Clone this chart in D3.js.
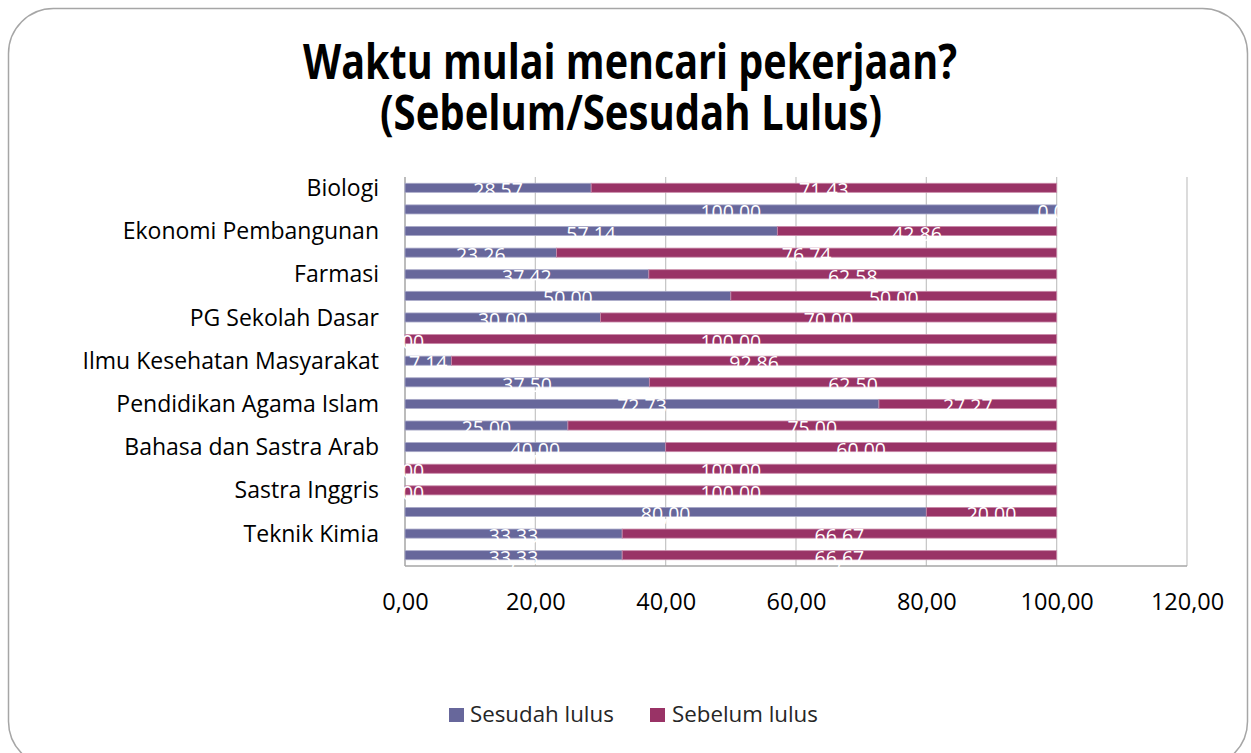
<!DOCTYPE html>
<html><head><meta charset="utf-8">
<script src="https://cdn.jsdelivr.net/npm/d3@7"></script>
<style>body{margin:0;background:#fff;} svg{display:block;font-family:"Open Sans",sans-serif;}</style>
</head><body>
<svg id="c" width="1251" height="753"></svg>
<script>
// ---- data ----
const categories = ["Biologi","","Ekonomi Pembangunan","","Farmasi","","PG Sekolah Dasar","","Ilmu Kesehatan Masyarakat","","Pendidikan Agama Islam","","Bahasa dan Sastra Arab","","Sastra Inggris","","Teknik Kimia",""];
const sesudahLulus = [28.57,100.00,57.14,23.26,37.42,50.00,30.00,0.00,7.14,37.50,72.73,25.00,40.00,0.00,0.00,80.00,33.33,33.33];
const sebelumLulus = [71.43,0.00,42.86,76.74,62.58,50.00,70.00,100.00,92.86,62.50,27.27,75.00,60.00,100.00,100.00,20.00,66.67,66.67];
const xTicks = [0,20,40,60,80,100,120];
const seriesNames = ["Sesudah lulus","Sebelum lulus"];
const seriesKeys = ["sesudah","sebelum"];
const colors = ["#67679b","#993366"];
const strokes = ["#a9a9c8","#c889a8"];
const titleLines = ["Waktu mulai mencari pekerjaan?","(Sebelum/Sesudah Lulus)"];

const fmt = d => d.toFixed(2).replace('.', ',');

const svg = d3.select("#c");
// outer frame
svg.append("rect").attr("x",8.5).attr("y",8.5).attr("width",1239).attr("height",758)
  .attr("rx",45).attr("ry",45).attr("fill","#fff").attr("stroke","#a6a6a6").attr("stroke-width",1.5);

// title
const tl = [[630,79,654],[631,130,502]];
svg.selectAll("text.title").data(titleLines).join("text").attr("class","title")
  .attr("x",(d,i)=>tl[i][0]).attr("y",(d,i)=>tl[i][1])
  .attr("text-anchor","middle").attr("font-weight","bold").attr("font-size",48)
  .attr("textLength",(d,i)=>tl[i][2]).attr("lengthAdjust","spacingAndGlyphs")
  .attr("fill","#000").text(d=>d);

const rows = categories.map((c,i)=>({i, sesudah: sesudahLulus[i], sebelum: sebelumLulus[i]}));
const x = d3.scaleLinear().domain([0,120]).range([405,1187]);
const y = d3.scaleBand().domain(d3.range(categories.length)).range([177,566]).paddingInner(0.58).paddingOuter(0.29);
const bw = y.bandwidth();

// gridlines
svg.append("g").selectAll("line").data(xTicks.slice(1)).join("line")
  .attr("x1",d=>x(d)).attr("x2",d=>x(d)).attr("y1",177).attr("y2",566)
  .attr("stroke","#c4c4c4").attr("stroke-width",1.2);
// axis lines
svg.append("line").attr("x1",x(0)).attr("x2",x(0)).attr("y1",177).attr("y2",566).attr("stroke","#a6a6a6").attr("stroke-width",1.5);
svg.append("line").attr("x1",x(0)).attr("x2",x(120)).attr("y1",566).attr("y2",566).attr("stroke","#a6a6a6").attr("stroke-width",1.5);

// bars
const stack = d3.stack().keys(seriesKeys)(rows);
const layers = svg.append("g").selectAll("g").data(stack).join("g")
  .attr("fill",(d,i)=>colors[i]).attr("stroke",(d,i)=>strokes[i]).attr("stroke-width",0.8);
layers.selectAll("rect").data(d=>d).join("rect")
  .attr("x",d=>x(d[0])).attr("width",d=>Math.max(0,x(d[1])-x(d[0])))
  .attr("y",d=>y(d.data.i)).attr("height",bw);

// data labels
const lbl = svg.append("g");
stack.forEach((layer,k)=>{
  lbl.selectAll("text.l"+k).data(layer).join("text").attr("class","l"+k)
    .attr("x",d=>x((d[0]+d[1])/2)).attr("y",d=>y(d.data.i)+bw/2+9.5)
    .attr("text-anchor","middle").attr("font-size",19.5).attr("fill","#fff")
    .text(d=>fmt(d.data[seriesKeys[k]]));
});

// y axis labels
const yAxis = d3.axisLeft(y).tickValues(d3.range(categories.length).filter(i=>categories[i]!==""))
  .tickFormat(i=>categories[i]).tickSize(0).tickPadding(26);
const gy = svg.append("g").attr("transform",`translate(${x(0)},0)`).call(yAxis);
gy.select(".domain").remove();
gy.selectAll("text").attr("font-family","Open Sans").attr("font-size",23).attr("fill","#000").attr("dy","0.35em");

// x axis labels
const xAxis = d3.axisBottom(x).tickValues(xTicks).tickFormat(fmt).tickSize(0).tickPadding(0);
const gx = svg.append("g").attr("transform","translate(0,566)").call(xAxis);
gx.select(".domain").remove();
gx.selectAll("text").attr("font-family","Open Sans").attr("font-size",23.5).attr("fill","#000").attr("y",44).attr("dy",0);

// legend
const lg = [[449,470],[650,672]];
const leg = svg.append("g").selectAll("g").data(seriesNames).join("g");
leg.append("rect").attr("x",(d,i)=>lg[i][0]).attr("y",708).attr("width",15).attr("height",14).attr("fill",(d,i)=>colors[i]);
leg.append("text").attr("x",(d,i)=>lg[i][1]).attr("y",722).attr("font-size",22.3).attr("fill","#262626").text(d=>d);
</script>
</body></html>
